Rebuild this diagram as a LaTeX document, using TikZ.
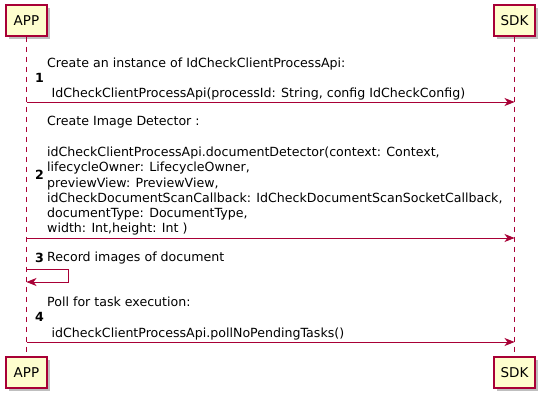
\documentclass[tikz,border=0pt]{standalone}
\usepackage{fontspec}
\setmainfont{DejaVu Sans}
\usetikzlibrary{arrows.meta,positioning,shadows}
\definecolor{umlred}{HTML}{A80036}
\definecolor{umlfill}{HTML}{FEFECE}
\tikzset{
    partbox/.style={draw=umlred, fill=umlfill, line width=1.2pt, minimum width=41pt, minimum height=31pt,
        inner sep=0pt, font=\fontsize{13.5}{15}\selectfont,
        drop shadow={shadow xshift=3pt, shadow yshift=-3pt, fill=black, opacity=0.25}},
    lifeline/.style={draw=umlred, line width=0.8pt, dash pattern=on 5pt off 5pt},
    msg/.style={draw=umlred, line width=0.8pt, -{Stealth[length=10pt, width=8pt, inset=3pt]}},
    msgtext/.style={anchor=west, align=left, inner sep=0pt, font=\fontsize{12.6}{15.3}\selectfont},
    msgnum/.style={anchor=west, inner sep=0pt, font=\bfseries\fontsize{12.6}{15.3}\selectfont}
}
\begin{document}
\begin{tikzpicture}[x=1pt, y=-1pt]
    \useasboundingbox (0, 0) rectangle (547, 401);
    % participants
    \node[partbox] (appT) at (26.5, 20.5) {APP};
    \node[partbox] (sdkT) at (514.5, 20.5) {SDK};
    \node[partbox] (appB) at (26.5, 372.5) {APP};
    \node[partbox] (sdkB) at (514.5, 372.5) {SDK};
    \draw[lifeline] (appT) -- (appB);
    \draw[lifeline] (sdkT) -- (sdkB);
    % 1
    \node[msgnum] (n1) at (35, 78) {1};
    \node[msgtext] (t1) at (47, 79) {Create an instance of IdCheckClientProcessApi:\\ \mbox{}\\
        \hspace*{4.5pt}IdCheckClientProcessApi(processId: String, config IdCheckConfig)};
    \coordinate (a1) at (26.5, 102);
    \coordinate (s1) at (514.5, 102);
    \draw[msg] (a1) -- (s1);
    % 2
    \node[msgnum] (n2) at (35, 175) {2};
    \node[msgtext] (t2) at (47, 176) {Create Image Detector :\\ \mbox{}\\
        idCheckClientProcessApi.documentDetector(context: Context,\\
        lifecycleOwner: LifecycleOwner,\\
        previewView: PreviewView,\\
        idCheckDocumentScanCallback: IdCheckDocumentScanSocketCallback,\\
        documentType: DocumentType,\\
        width: Int,height: Int )};
    \coordinate (a2) at (26.5, 238);
    \coordinate (s2) at (514.5, 238);
    \draw[msg] (a2) -- (s2);
    % 3
    \node[msgnum] (n3) at (35, 258) {3};
    \node[msgtext] (t3) at (47, 258) {Record images of document};
    \coordinate (a3) at (26.5, 269);
    \coordinate (b3) at (26.5, 282);
    \draw[msg] (a3) -- ++(42, 0) |- (b3);
    % 4
    \node[msgnum] (n4) at (35, 317) {4};
    \node[msgtext] (t4) at (47, 318.5) {Poll for task execution:\\ \mbox{}\\
        \hspace*{4.5pt}idCheckClientProcessApi.pollNoPendingTasks()};
    \coordinate (a4) at (26.5, 342);
    \coordinate (s4) at (514.5, 342);
    \draw[msg] (a4) -- (s4);
\end{tikzpicture}
\end{document}
